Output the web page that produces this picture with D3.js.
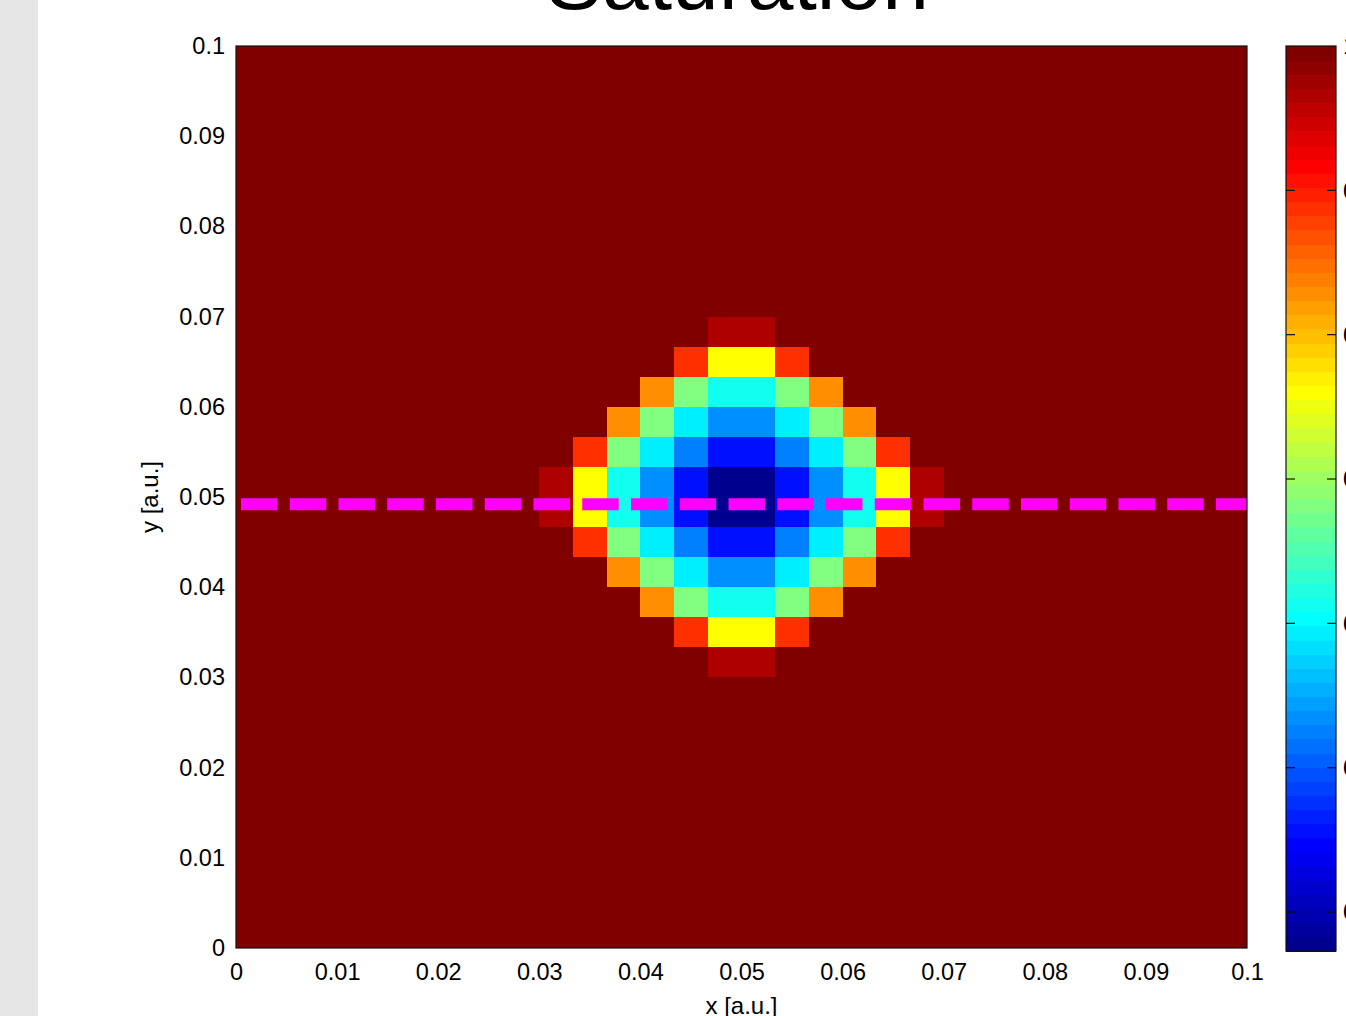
<!DOCTYPE html>
<html>
<head>
<meta charset="utf-8">
<script src="https://cdn.jsdelivr.net/npm/d3@7"></script>
<style>
  body { margin: 0; background: #fff; overflow: hidden; }
  svg { display: block; font-family: "Liberation Sans", Arial, Helvetica, sans-serif; }
</style>
</head>
<body>
<script>
// 30 x 30 cells over [0, 0.1] x [0, 0.1]
var nCells = 30;
var domainMax = 0.1;
var background = 1.0;

// cells that differ from the background, rows listed top -> bottom,
// first row of the patch is row 9 from the top, first column is column 9
var patchRow0 = 9, patchCol0 = 9;
var patch = [
  [1,     1,     1,     1,     1,     0.966, 0.966, 1,     1,     1,     1,     1    ],
  [1,     1,     1,     1,     0.887, 0.760, 0.760, 0.887, 1,     1,     1,     1    ],
  [1,     1,     1,     0.829, 0.682, 0.613, 0.613, 0.682, 0.829, 1,     1,     1    ],
  [1,     1,     0.829, 0.682, 0.593, 0.535, 0.535, 0.593, 0.682, 0.829, 1,     1    ],
  [1,     0.887, 0.682, 0.593, 0.525, 0.456, 0.456, 0.525, 0.593, 0.682, 0.887, 1    ],
  [0.966, 0.760, 0.613, 0.535, 0.456, 0.373, 0.373, 0.456, 0.535, 0.613, 0.760, 0.966],
  [0.966, 0.760, 0.613, 0.535, 0.456, 0.373, 0.373, 0.456, 0.535, 0.613, 0.760, 0.966],
  [1,     0.887, 0.682, 0.593, 0.525, 0.456, 0.456, 0.525, 0.593, 0.682, 0.887, 1    ],
  [1,     1,     0.829, 0.682, 0.593, 0.535, 0.535, 0.593, 0.682, 0.829, 1,     1    ],
  [1,     1,     1,     0.829, 0.682, 0.613, 0.613, 0.682, 0.829, 1,     1,     1    ],
  [1,     1,     1,     1,     0.887, 0.760, 0.760, 0.887, 1,     1,     1,     1    ],
  [1,     1,     1,     1,     1,     0.966, 0.966, 1,     1,     1,     1,     1    ]
];

var xTicks = [0, 0.01, 0.02, 0.03, 0.04, 0.05, 0.06, 0.07, 0.08, 0.09, 0.1];
var yTicks = [0, 0.01, 0.02, 0.03, 0.04, 0.05, 0.06, 0.07, 0.08, 0.09, 0.1];
var cbarTicks = [0.4, 0.5, 0.6, 0.7, 0.8, 0.9, 1];
var cutLineY = 0.0492;

var titleText = "Saturation";
var xLabel = "x [a.u.]";
var yLabel = "y [a.u.]";

// matlab jet(m)
function jet(m) {
  var n = Math.ceil(m / 4);
  var u = [];
  for (var i = 1; i <= n; i++) u.push(i / n);
  for (var i = 1; i < n; i++) u.push(1);
  for (var i = n; i >= 1; i--) u.push(i / n);
  var g0 = Math.ceil(n / 2) - (m % 4 == 1 ? 1 : 0);
  var R = new Array(m).fill(0), G = new Array(m).fill(0), B = new Array(m).fill(0);
  u.forEach(function(v, k) {
    var gi = g0 + k + 1, ri = gi + n, bi = gi - n;
    if (gi >= 1 && gi <= m) G[gi - 1] = v;
    if (ri >= 1 && ri <= m) R[ri - 1] = v;
    if (bi >= 1 && bi <= m) B[bi - 1] = v;
  });
  return d3.range(m).map(function(k) {
    return d3.rgb(Math.round(R[k] * 255), Math.round(G[k] * 255), Math.round(B[k] * 255)).formatHex();
  });
}

var W = 1346, H = 1016;
var plot = {left: 236, right: 1247, top: 46, bottom: 948};
var cbar = {left: 1286, right: 1336, top: 46, bottom: 951};

var svg = d3.select("body").append("svg")
    .attr("width", W)
    .attr("height", H);

svg.append("rect")
    .attr("x", 0).attr("y", 0)
    .attr("width", 38).attr("height", H)
    .attr("fill", "#e6e6e6");

// build the cell list
var cells = [];
for (var r = 0; r < nCells; r++) {
  for (var c = 0; c < nCells; c++) {
    var v = background;
    var pr = r - patchRow0, pc = c - patchCol0;
    if (pr >= 0 && pr < patch.length && pc >= 0 && pc < patch[pr].length) v = patch[pr][pc];
    cells.push({row: r, col: c, value: v});
  }
}

var x = d3.scaleLinear().domain([0, domainMax]).range([plot.left, plot.right]);
var y = d3.scaleLinear().domain([0, domainMax]).range([plot.bottom, plot.top]);
var cellSize = domainMax / nCells;

var cmin = d3.min(cells, function(d) { return d.value; });
var cmax = d3.max(cells, function(d) { return d.value; });
var colors = jet(64);
var color = d3.scaleQuantize().domain([cmin, cmax]).range(colors);

svg.append("defs").append("clipPath").attr("id", "plotClip")
  .append("rect")
    .attr("x", plot.left).attr("y", plot.top)
    .attr("width", plot.right - plot.left).attr("height", plot.bottom - plot.top);

var g = svg.append("g").attr("clip-path", "url(#plotClip)");

g.selectAll(".cell")
    .data(cells)
  .enter().append("rect")
    .attr("class", "cell")
    .attr("shape-rendering", "crispEdges")
    .attr("x", function(d) { return x(d.col * cellSize); })
    .attr("y", function(d) { return y(domainMax - d.row * cellSize); })
    .attr("width", function(d) { return x((d.col + 1) * cellSize) - x(d.col * cellSize) + 0.6; })
    .attr("height", function(d) { return y(domainMax - (d.row + 1) * cellSize) - y(domainMax - d.row * cellSize) + 0.6; })
    .attr("fill", function(d) { return color(d.value); });

g.append("line")
    .attr("x1", x(0)).attr("x2", x(domainMax))
    .attr("y1", y(cutLineY)).attr("y2", y(cutLineY))
    .attr("stroke", "#ff00ff")
    .attr("stroke-width", 12)
    .attr("stroke-dasharray", "36.5,12.25")
    .attr("stroke-dashoffset", -5);

svg.append("rect")
    .attr("x", plot.left).attr("y", plot.top)
    .attr("width", plot.right - plot.left).attr("height", plot.bottom - plot.top)
    .attr("fill", "none")
    .attr("stroke", "#111")
    .attr("stroke-width", 1.2);

var xAxis = svg.append("g")
    .attr("transform", "translate(0," + plot.bottom + ")")
    .call(d3.axisBottom(x).tickValues(xTicks).tickSize(0).tickPadding(15)
      .tickFormat(function(d) { return String(d); }));
var yAxis = svg.append("g")
    .attr("transform", "translate(" + plot.left + ",0)")
    .call(d3.axisLeft(y).tickValues(yTicks).tickSize(0).tickPadding(11)
      .tickFormat(function(d) { return String(d); }));
[xAxis, yAxis].forEach(function(a) {
  a.select(".domain").remove();
  a.selectAll("text").attr("font-size", 23.5).attr("fill", "#000")
    .attr("font-family", "'Liberation Sans', Arial, sans-serif");
});

svg.append("text")
    .attr("x", (plot.left + plot.right) / 2)
    .attr("y", 1014)
    .attr("text-anchor", "middle")
    .attr("font-size", 24)
    .text(xLabel);

svg.append("text")
    .attr("transform", "translate(158," + ((plot.top + plot.bottom) / 2) + ") rotate(-90)")
    .attr("text-anchor", "middle")
    .attr("font-size", 24)
    .text(yLabel);

svg.append("text")
    .attr("x", (plot.left + plot.right) / 2 - 4)
    .attr("y", 9)
    .attr("text-anchor", "middle")
    .attr("font-size", 84)
    .text(titleText);

// colorbar
var cy = d3.scaleLinear().domain([cmin, cmax]).range([cbar.bottom, cbar.top]);
var bandH = (cbar.bottom - cbar.top) / colors.length;
svg.append("g").selectAll("rect")
    .data(colors)
  .enter().append("rect")
    .attr("shape-rendering", "crispEdges")
    .attr("x", cbar.left)
    .attr("y", function(d, i) { return cbar.bottom - (i + 1) * bandH; })
    .attr("width", cbar.right - cbar.left)
    .attr("height", bandH + 0.6)
    .attr("fill", function(d) { return d; });

svg.append("rect")
    .attr("x", cbar.left).attr("y", cbar.top)
    .attr("width", cbar.right - cbar.left).attr("height", cbar.bottom - cbar.top)
    .attr("fill", "none")
    .attr("stroke", "#111")
    .attr("stroke-width", 1.2);

var cb = svg.append("g").selectAll("g")
    .data(cbarTicks)
  .enter().append("g")
    .attr("transform", function(d) { return "translate(0," + cy(d) + ")"; });
cb.filter(function(d) { return d < 1; }).append("line")
    .attr("x1", cbar.left).attr("x2", cbar.left + 9)
    .attr("stroke", "#111").attr("stroke-width", 1.2);
cb.filter(function(d) { return d < 1; }).append("line")
    .attr("x1", cbar.right - 9).attr("x2", cbar.right)
    .attr("stroke", "#111").attr("stroke-width", 1.2);
cb.append("text")
    .attr("x", cbar.right + 7)
    .attr("dy", "0.35em")
    .attr("font-size", 24)
    .text(function(d) { return String(d); });
</script>
</body>
</html>
